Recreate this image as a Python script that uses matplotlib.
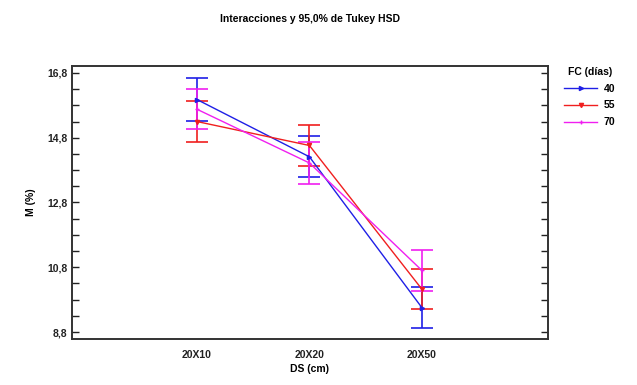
import matplotlib
matplotlib.use('Agg')
import matplotlib.pyplot as plt
import numpy as np
from matplotlib.ticker import MultipleLocator, FuncFormatter
from matplotlib.lines import Line2D

plt.rcParams['font.family'] = ['Liberation Sans Narrow', 'Liberation Sans', 'DejaVu Sans']
plt.rcParams['font.weight'] = 'bold'
plt.rcParams['axes.titleweight'] = 'bold'
plt.rcParams['axes.labelweight'] = 'bold'

#data
categories = ['20X10', '20X20', '20X50']
fc_labels = ['40', '55', '70']
means_40 = [15.98, 14.21, 9.55]
means_55 = [15.30, 14.56, 10.12]
means_70 = [15.68, 14.02, 10.70]
hw_40 = [0.65, 0.63, 0.64]
hw_55 = [0.64, 0.64, 0.62]
hw_70 = [0.62, 0.64, 0.63]

colors = ['#1f1fe6', '#f01f1f', '#f01ff0']
markers = ['>', 'v', '+']

fig = plt.figure(figsize=(6.37, 3.85), dpi=100)
ax = fig.add_axes([72/637, 1-338.5/385, (548-72)/637, (338.5-65.5)/385])

x = np.arange(1, len(categories)+1)
handles = []
for means, hw, col, mk, lab in zip([means_40, means_55, means_70], [hw_40, hw_55, hw_70], colors, markers, fc_labels):
	ax.errorbar(x, means, yerr=hw, color=col, marker=mk, markersize=3, lw=1.0,
		capsize=8, capthick=1.2, elinewidth=1.2)
	handles.append(Line2D([], [], color=col, marker=mk, markersize=3, lw=1.0, label=lab))

ax.set_xlim(-0.11, 4.12)
ax.set_ylim(8.6, 17.03)
ax.set_xticks(x)
ax.set_xticklabels(categories)
ax.set_yticks(np.arange(8.8, 16.9, 2.0))
ax.yaxis.set_minor_locator(MultipleLocator(0.5, offset=0.3))
ax.yaxis.set_major_formatter(FuncFormatter(lambda v, p: ('%.1f' % v).replace('.', ',')))

ax.tick_params(axis='y', which='both', direction='in', length=5, width=1, right=True, labelsize=7.5, colors='#222222')
ax.tick_params(axis='x', length=0, labelsize=7.5, pad=8, colors='#222222')
for s in ax.spines.values():
	s.set_linewidth(1.4)
	s.set_color('#333333')

ax.set_xlabel('DS (cm)', fontsize=7.5, labelpad=3)
ax.set_ylabel('M (%)', fontsize=7.5, labelpad=8)
ax.set_title('Interacciones y 95,0% de Tukey HSD', fontsize=7.5, pad=31)

leg = ax.legend(handles=handles, title='FC (días)', loc='upper left', bbox_to_anchor=(1.025, 1.01), frameon=False,
	fontsize=7.5, title_fontsize=7.5, handlelength=3.2, handletextpad=0.6, labelspacing=0.65, borderaxespad=0)
leg.get_title().set_fontweight('bold')

fig.savefig('out.png', dpi=100)
